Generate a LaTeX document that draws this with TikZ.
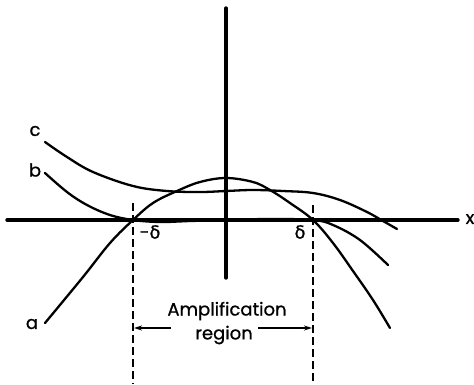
\documentclass[tikz,border=0pt]{standalone}
\usepackage{fontspec}
\setmainfont{Poppins}
\newfontfamily\lblfont{Poppins}[FakeBold=0.8]
\newfontfamily\grk{DejaVu Sans}[FakeBold=0.8]
\usetikzlibrary{arrows.meta}
\begin{document}
\begin{tikzpicture}[x=1pt,y=-1pt,
  curve/.style={line width=2.3pt, line cap=round},
  axis/.style={line width=3.4pt, line cap=round},
  dashline/.style={line width=2.2pt, dash pattern=on 8pt off 4pt},
  lbl/.style={font=\fontsize{18}{20}\selectfont\lblfont, inner sep=0pt},
  dim/.style={line width=1.6pt, -{Stealth[length=8pt,width=5pt]}}]
\useasboundingbox (0,0) rectangle (474,384);
% axes
\coordinate (xl) at (7,220);
\coordinate (xr) at (458,220);
\coordinate (yt) at (226,8);
\coordinate (yb) at (226,278);
\draw[axis] (xl) -- (xr);
\draw[axis] (yt) -- (yb);
\node[lbl] (xlab) at (470,219) {x};
% dashed lines
\coordinate (dlt) at (133,203);
\coordinate (dlb) at (133,384);
\coordinate (drt) at (313,205);
\coordinate (drb) at (313,384);
\draw[dashline] (dlt) -- (dlb);
\draw[dashline] (drt) -- (drb);
\node[lbl] (md) at (150,232) {-{\grk δ}};
\node[lbl] (pd) at (300,232) {{\grk δ}};
% curve a
\draw[curve] plot[smooth, tension=0.6] coordinates {(45,323) (83,277) (110,243) (133,220) (153,203) (177,191) (200,182) (226,178) (253,182) (270,190) (290,203) (313,220) (333,243) (353,271) (373,300) (390,328)};
% curve b
\draw[curve] plot[smooth, tension=0.6] coordinates {(45,173) (67,192) (87,205) (110,215) (133,220) (160,222) (190,221) (226,220) (270,219) (313,220) (333,225) (360,240) (388,265)};
% curve c
\draw[curve] plot[smooth, tension=0.6] coordinates {(45,142) (67,157) (93,172) (133,186) (167,191) (200,192) (226,191) (253,190) (283,191) (313,193) (340,200) (367,212) (383,221) (397,229)};
\node[lbl] (la) at (32,324) {a};
\node[lbl] (lb) at (35,170) {b};
\node[lbl] (lc) at (35,131) {c};
% amplification region
\node[lbl] (amp) at (227,311) {Amplification};
\node[lbl] (reg) at (224,335) {region};
\coordinate (al) at (171,328);
\coordinate (ar) at (258,328);
\coordinate (alt) at (134,328);
\coordinate (art) at (312,328);
\draw[dim] (al) -- (alt);
\draw[dim] (ar) -- (art);
\end{tikzpicture}
\end{document}
